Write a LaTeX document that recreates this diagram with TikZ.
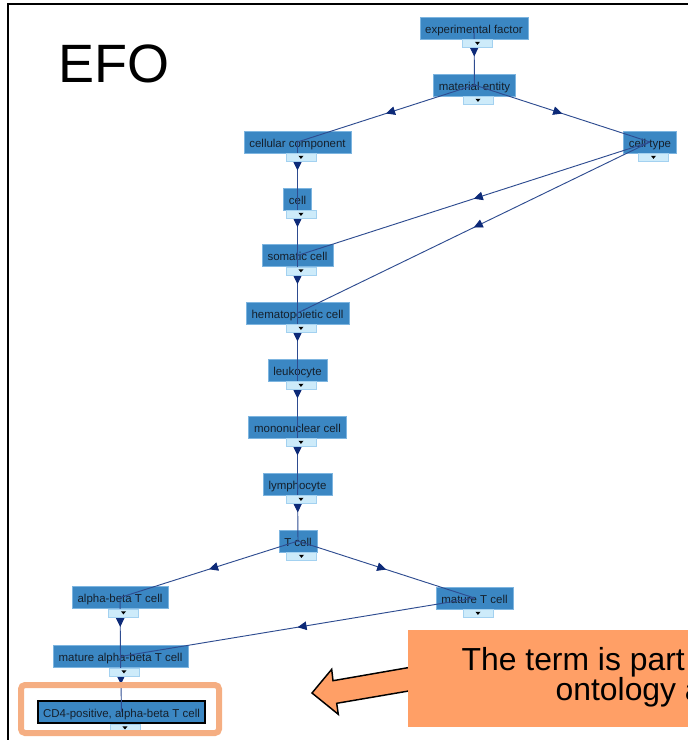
\documentclass[tikz,border=0pt]{standalone}
\usepackage{fontspec}
\setmainfont{Liberation Sans}
\usetikzlibrary{arrows.meta,decorations.markings}

\definecolor{termblue}{HTML}{3B87C3}
\definecolor{termedge}{HTML}{7DB5E0}
\definecolor{termtext}{HTML}{15202C}
\definecolor{togglefill}{HTML}{CDEBFA}
\definecolor{toggleedge}{HTML}{A3D1F0}
\definecolor{linkblue}{HTML}{2E4C90}
\definecolor{headnavy}{HTML}{0D2A78}
\definecolor{calloutorange}{HTML}{FF9F66}
\definecolor{ringorange}{HTML}{F5AE82}

% small expand/collapse tab under a term box
\newcommand\termtoggle[1]{%
  \node[togglebox] (#1-t) at ([xshift=2.6pt]#1.south) {};
  \fill ([shift={(-1.9pt,1.3pt)}]#1-t.center) -- ++(3.8pt,0pt) -- ++(-1.9pt,-2.3pt) -- cycle;
}

\begin{document}
\begin{tikzpicture}[x=0.75pt,y=-0.75pt,
  term/.style={draw=termedge, line width=0.4pt, fill=termblue, text=termtext,
    font=\fontsize{8.6}{10}\selectfont, inner xsep=4.1pt, inner ysep=0pt,
    text height=8.2pt, text depth=0pt, minimum height=16.5pt},
  togglebox/.style={draw=toggleedge, line width=0.4pt, fill=togglefill,
    minimum width=22.5pt, minimum height=6pt, inner sep=0pt, anchor=north},
  link/.style={draw=linkblue, line width=0.7pt, postaction={decorate},
    decoration={markings, mark=at position 0.5 with
      {\arrow{Triangle[length=6.8pt,width=6.4pt,color=headnavy]}}}},
  title/.style={font=\fontsize{40.5}{44}\selectfont, inner sep=0pt, anchor=base west},
  calltext/.style={font=\fontsize{23.9}{28}\selectfont, inner sep=0pt, anchor=base west},
]
\useasboundingbox (0,0) rectangle (687,740);

% slide frame
\draw[line width=1.5pt] (8,741) -- (8,4) -- (688,4);

\node[title] (efo) at (58,82) {EFO};

% term boxes
\node[term] (ef)   at (474,28)    {experimental factor};
\node[term] (me)   at (474.5,85)  {material entity};
\node[term] (ct)   at (650,142)   {cell type};
\node[term] (cc)   at (297.5,142) {cellular component};
\node[term] (cell) at (297.5,199) {cell};
\node[term] (sc)   at (297.5,255.5) {somatic cell};
\node[term] (hc)   at (297.5,313) {hematopoietic cell};
\node[term] (leu)  at (297.5,370) {leukocyte};
\node[term] (mono) at (297.5,427) {mononuclear cell};
\node[term] (lym)  at (297.5,484) {lymphocyte};
\node[term] (tc)   at (298,541)   {T cell};
\node[term] (ab)   at (120,597.5) {alpha-beta T cell};
\node[term] (mt)   at (474.5,598) {mature T cell};
\node[term] (mab)  at (120.5,656.5) {mature alpha-beta T cell};
\node[term, draw=black, line width=1.3pt] (cd4) at (121.5,712) {CD4-positive, alpha-beta T cell};

% is-a links, parent to child
\draw[link] (ef.center) -- (me.center);
\draw[link] (me.center) -- (cc.center);
\draw[link] (me.center) -- (ct.center);
\draw[link] (cc.center) -- (cell.center);
\draw[link] (cell.center) -- (sc.center);
\draw[link] (ct.center) -- (sc.center);
\draw[link] (sc.center) -- (hc.center);
\draw[link] (ct.center) -- (hc.center);
\draw[link] (hc.center) -- (leu.center);
\draw[link] (leu.center) -- (mono.center);
\draw[link] (mono.center) -- (lym.center);
\draw[link] (lym.center) -- (tc.center);
\draw[link] (tc.center) -- (ab.center);
\draw[link] (tc.center) -- (mt.center);
\draw[link] (ab.center) -- (mab.center);
\draw[link] (mt.center) -- (mab.center);
\draw[link] (mab.center) -- (cd4.center);

% expand tabs
\termtoggle{ef}
\termtoggle{me}
\termtoggle{ct}
\termtoggle{cc}
\termtoggle{cell}
\termtoggle{sc}
\termtoggle{hc}
\termtoggle{leu}
\termtoggle{mono}
\termtoggle{lym}
\termtoggle{tc}
\termtoggle{ab}
\termtoggle{mt}
\termtoggle{mab}
\termtoggle{cd4}

% highlight ring around the selected term
\draw[ringorange, line width=4.5pt, rounded corners=3pt] (21,685) rectangle (219,733);

% callout arrow and box
\draw[fill=calloutorange, line width=1.1pt, line join=miter]
  (312,693) -- (331.7,669.3) -- (333,680.7) -- (432,663.5) -- (432,687) --
  (336.7,703.3) -- (338.3,714.3) -- cycle;
\fill[calloutorange] (408,630) rectangle (690,727);
\node[calltext] (line1) at (461.4,670.5) {The term is part};
\node[calltext] (line2) at (555.4,700.5) {ontology a};
\end{tikzpicture}
\end{document}
